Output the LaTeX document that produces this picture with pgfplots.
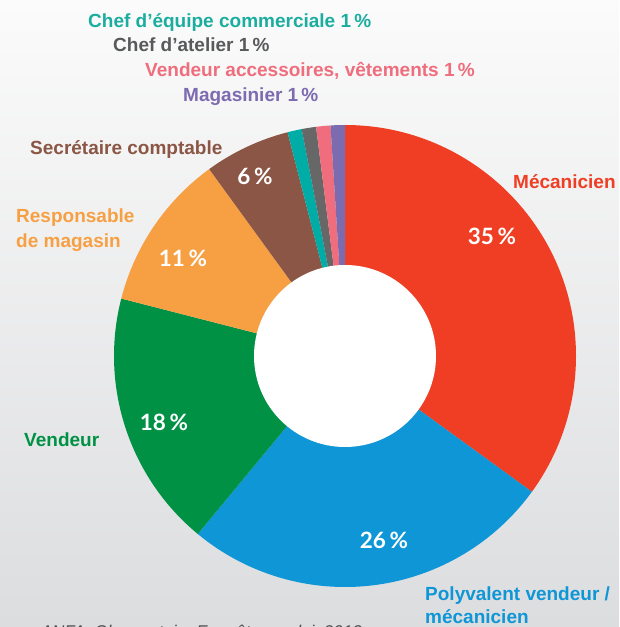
\documentclass[border=0pt]{standalone}
\usepackage{pgfplots}
\pgfplotsset{compat=1.18}
\usepackage{pgfplotstable}
\usepackage{fontspec}
\setmainfont{Liberation Sans}
\newfontfamily\pctfont{Lato}

\definecolor{cMeca}{HTML}{EF3E23}
\definecolor{cPoly}{HTML}{0E96D6}
\definecolor{cVend}{HTML}{009145}
\definecolor{cResp}{HTML}{F7A043}
\definecolor{cSecr}{HTML}{8B5645}
\definecolor{cChefEq}{HTML}{00ADA6}
\definecolor{cChefAt}{HTML}{666766}
\definecolor{cVendAcc}{HTML}{EF6D7C}
\definecolor{cMagas}{HTML}{7D6BB0}
\definecolor{tChefEq}{HTML}{1AADA0}
\definecolor{tChefAt}{HTML}{58595B}
\definecolor{bgTop}{HTML}{FBFBFB}
\definecolor{bgMid}{HTML}{EFEFF0}
\definecolor{bgBot}{HTML}{DCDDDF}
\definecolor{srcgray}{HTML}{4D4D4F}

\pgfplotstableread{
name value color lx ly
Mecanicien 35 cMeca 147 120
Polyvalent 26 cPoly 39 -184
Vendeur 18 cVend -181 -66
Responsable 11 cResp -162 98
Secretaire 6 cSecr -90 180
ChefEquipe 1 cChefEq 0 0
ChefAtelier 1 cChefAt 0 0
VendeurAcc 1 cVendAcc 0 0
Magasinier 1 cMagas 0 0
}\slices

\newcommand\pctsign{\,\%}
\tikzset{
  pct/.style={text=white, inner sep=0pt, font=\pctfont\bfseries\fontsize{22.5}{22.5}\selectfont},
  lab/.style={anchor=base west, inner sep=0pt, font=\bfseries\fontsize{19}{23}\selectfont},
}

\begin{document}%
\begin{tikzpicture}[x=1pt,y=1pt]%
\useasboundingbox (0,0) rectangle (619,627);
\clip (0,0) rectangle (619,627);
\pgfplotstablegetrowsof{\slices}%
\pgfmathtruncatemacro{\nrows}{\pgfplotsretval-1}%
\shade[top color=bgTop, middle color=bgMid, bottom color=bgBot] (0,0) rectangle (619,627);
\begin{axis}[
  at={(345pt,271pt)}, anchor=origin,
  x=1pt, y=1pt,
  xmin=-240, xmax=240, ymin=-240, ymax=240,
  hide axis, clip=false,
]
\def\cum{0}
\pgfplotsforeachungrouped \i in {0,...,\nrows}{%
  \pgfplotstablegetelem{\i}{value}\of\slices \let\sv\pgfplotsretval
  \pgfplotstablegetelem{\i}{color}\of\slices \let\scol\pgfplotsretval
  \pgfmathsetmacro{\sa}{90-3.6*\cum}%
  \pgfmathsetmacro{\sb}{90-3.6*(\cum+\sv)}%
  \pgfmathsetmacro{\cum}{\cum+\sv}%
  \edef\temp{\noexpand\fill[\scol] (axis cs:0,0) -- ++(\sa:231pt) arc[start angle=\sa, end angle=\sb, radius=231pt] -- cycle;}%
  \temp
}
\fill[white] (axis cs:0,0) circle[radius=91pt];
\pgfplotsforeachungrouped \i in {0,...,\nrows}{%
  \pgfplotstablegetelem{\i}{value}\of\slices \let\sv\pgfplotsretval
  \pgfplotstablegetelem{\i}{lx}\of\slices \let\slx\pgfplotsretval
  \pgfplotstablegetelem{\i}{ly}\of\slices \let\sly\pgfplotsretval
  \ifdim\sv pt>2pt
    \edef\temp{\noexpand\node[pct] at (axis cs:\slx,\sly) {\sv\noexpand\pctsign};}%
    \temp
  \fi
}
\end{axis}
% category labels
\node[lab, text=tChefEq] at (88,599) {Chef d’équipe commerciale 1\,\%};
\node[lab, text=tChefAt] at (113,575) {Chef d’atelier 1\,\%};
\node[lab, text=cVendAcc] at (145,550) {Vendeur accessoires, vêtements 1\,\%};
\node[lab, text=cMagas] at (183,525) {Magasinier 1\,\%};
\node[lab, text=cSecr] at (30,472) {Secrétaire comptable};
\node[lab, text=cMeca] at (513,438) {Mécanicien};
\node[lab, text=cResp] at (16,404) {Responsable};
\node[lab, text=cResp] at (16,379) {de magasin};
\node[lab, text=cVend] at (24,180) {Vendeur};
\node[lab, text=cPoly] at (425,26) {Polyvalent vendeur /};
\node[lab, text=cPoly] at (425,4) {mécanicien};
\node[anchor=base east, inner sep=0pt, text=srcgray, font=\itshape\fontsize{17}{17}\selectfont] at (362,-10) {Source : ANFA, Observatoire Enquête emploi, 2013};
\end{tikzpicture}%
\end{document}
